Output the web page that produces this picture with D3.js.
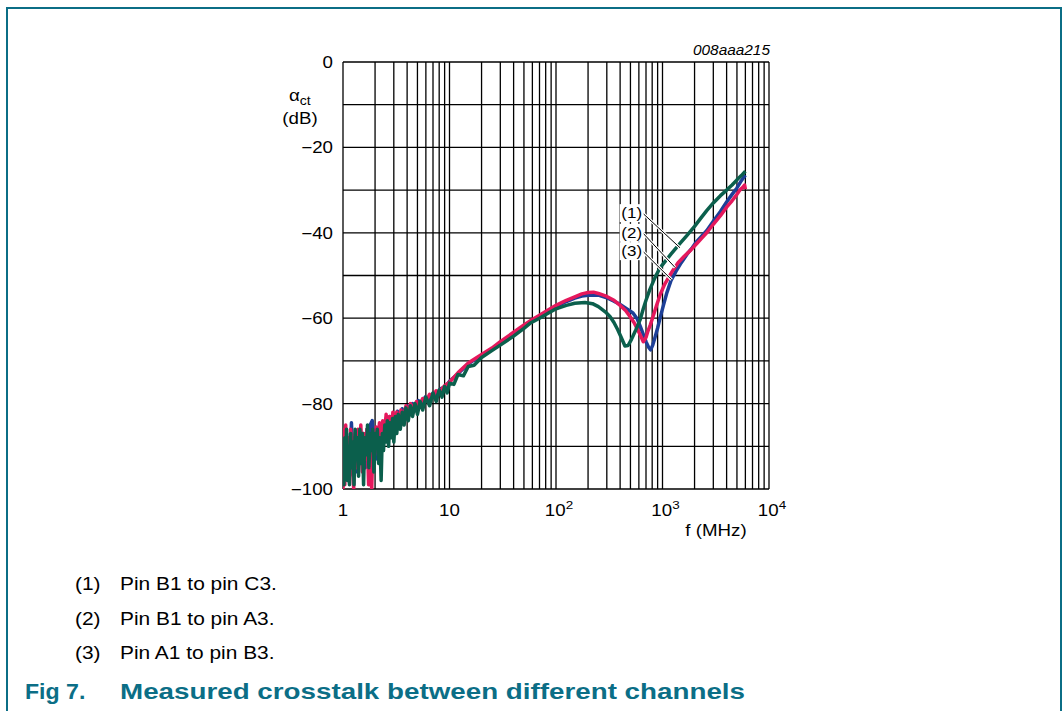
<!DOCTYPE html>
<html>
<head>
<meta charset="utf-8">
<script src="https://cdn.jsdelivr.net/npm/d3@7"></script>
<style>
body { margin: 0; background: #fff; }
svg { display: block; font-family: "Liberation Sans", Arial, sans-serif; }
</style>
</head>
<body>
<svg id="chart"></svg>
<script>
//tick values and labels
var yTickVals = [0, -20, -40, -60, -80, -100];
var xTickVals = [1, 10, 100, 1000, 10000];
var xTickBase = ["1", "10", "10", "10", "10"];
var xTickExp = ["", "", "2", "3", "4"];

//series (frequency in MHz, crosstalk in dB)
var pinB1C3 = [
    [1.00,-92],[1.02,-99],[1.04,-88],[1.06,-96],[1.08,-86],[1.10,-98],[1.12,-90],[1.15,-99],
    [1.18,-87],[1.21,-95],[1.24,-89],[1.27,-99],[1.30,-86],[1.33,-93],[1.36,-88],[1.40,-97],
    [1.44,-86],[1.48,-94],[1.52,-87],[1.56,-99],[1.60,-88],[1.65,-92],[1.70,-85],[1.75,-95],
    [1.80,-87],[1.85,-91],[1.90,-86],[1.95,-96],[2.00,-87],[2.05,-90],[2.10,-86],[2.16,-94],
    [2.22,-88],[2.28,-98],[2.34,-87],[2.40,-91],[2.47,-85],[2.54,-89],[2.61,-84],[2.68,-90],
    [2.76,-84.5],[2.84,-88],[2.92,-83.5],[3.00,-89],[3.10,-83],[3.20,-87],[3.30,-82.5],[3.45,-86],
    [3.60,-82],[3.75,-85],[3.90,-81],[4.10,-84],[4.30,-80.5],[4.50,-83],[4.75,-80],[5.0,-82.5],
    [5.3,-79.5],[5.6,-81.5],[6.0,-78.5],[6.5,-80.5],[7.0,-77.5],[7.5,-79.5],[8.0,-76.8],[8.5,-78.5],
    [9.0,-76],[9.5,-77.5],[10,-75.2],[11,-75.5],[12,-73.2],[13.5,-73.5],[15,-71.3],[17,-71],
    [20,-69.2],[25,-67.6],[30,-66.3],[40,-64.2],[50,-62.4],
    [57,-61.2],[70,-60],[85,-58.8],[100,-57.8],[125,-57],[150,-56.5],[187,-56.3],[220,-56.6],
    [250,-57.3],[290,-58.5],[321,-59.6],[350,-61],[380,-62.7],[410,-64.5],[444,-66.5],[475,-66.4],
    [510,-65],[560,-62.8],[616,-60.4],[660,-57.8],[700,-55.8],[760,-53.3],[850,-50.5],[948,-48.2],
    [1050,-46.8],[1200,-45],[1460,-42.5],[1700,-40.6],[2000,-38.5],[2300,-36.5],[2600,-34.8],
    [3000,-33],[3500,-31.3],[4000,-30],[4500,-28.8],[5000,-27.6],[5500,-26.6],[6000,-25.6]
];
var pinB1A3 = [
    [1.00,-100],[1.02,-86],[1.04,-99],[1.06,-85],[1.09,-95],[1.12,-88],[1.15,-97],[1.18,-86],
    [1.22,-93],[1.26,-100],[1.30,-87],[1.34,-95],[1.38,-86],[1.42,-92],[1.47,-85],[1.52,-96],
    [1.57,-87],[1.62,-93],[1.68,-86],[1.74,-99],[1.80,-88],[1.86,-100],[1.92,-87],[1.98,-92],
    [2.05,-85.5],[2.12,-90],[2.20,-84.5],[2.28,-89],[2.36,-84],[2.45,-88],[2.54,-82.5],[2.63,-87],
    [2.73,-83],[2.83,-86.5],[2.94,-82],[3.05,-85],[3.2,-82],[3.35,-84.5],[3.5,-81.5],[3.7,-83.5],
    [3.9,-80.5],[4.1,-82.5],[4.3,-80],[4.6,-81.5],[4.9,-79.5],[5.2,-80.5],[5.6,-78.8],[6.0,-79.5],
    [6.5,-77.8],[7.0,-78.2],[7.5,-77],[8.0,-77.3],[9.0,-75.8],[10,-75],
    [12,-72.8],[15,-70.5],[20,-68.5],[25,-67],[30,-65.5],[40,-63.3],[50,-61.6],[60,-60.3],
    [70,-59.3],[85,-58],[100,-57],[125,-55.8],[150,-55],[175,-54.3],[200,-54],[225,-53.9],
    [250,-54.2],[300,-54.9],[350,-55.8],[400,-57],[450,-58.2],[495,-59.6],[540,-61],[580,-62.5],
    [620,-64],[660,-65.5],[700,-64.5],[730,-63],[770,-61.5],[815,-59.6],[880,-57],[950,-54.5],
    [1050,-52],[1150,-50.3],[1260,-48.7],[1400,-47],[1600,-45.5],[1850,-44],[2100,-42.5],
    [2350,-41.2],[2600,-40],[3000,-38],[3500,-36],[4000,-34],[4500,-32.5],[5000,-31],
    [5400,-29.8],[5700,-29.3],[5900,-28.8],[6000,-29.8]
];
var pinA1B3 = [
    [1.00,-97],[1.02,-89],[1.05,-94],[1.08,-87],[1.11,-96],[1.14,-89],[1.17,-92],[1.20,-84.5],
    [1.24,-93],[1.28,-88],[1.32,-96],[1.36,-87],[1.41,-94],[1.46,-86],[1.51,-91],[1.56,-87],
    [1.62,-95],[1.68,-86],[1.74,-92],[1.80,-85],[1.88,-84],[1.95,-91],[2.02,-86],[2.10,-93],
    [2.18,-86],[2.26,-90],[2.35,-84.5],[2.44,-88.5],[2.54,-83.5],[2.64,-87],[2.75,-83],[2.86,-86],
    [2.98,-82.5],[3.1,-85],[3.25,-81.8],[3.4,-84],[3.6,-81.2],[3.8,-83],[4.0,-80.5],[4.25,-82],
    [4.5,-80],[4.8,-81],[5.1,-79.3],[5.5,-80],[5.9,-78.5],[6.4,-79],[7.0,-77.6],[7.6,-77.8],
    [8.3,-76.5],[9.2,-76],[10,-74.8],
    [12,-73],[15,-70.7],[20,-68.7],[25,-67.2],[30,-65.8],[40,-63.5],[50,-61.8],[60,-60.5],
    [70,-59.5],[85,-58.3],[100,-57.3],[125,-56.1],[150,-55.3],[175,-54.8],[200,-54.6],[250,-54.6],
    [300,-55.2],[350,-56],[400,-56.8],[460,-57.8],[528,-58.8],[580,-60.2],[620,-62],[660,-63.8],
    [700,-65.5],[740,-66.8],[774,-67.4],[810,-66.3],[850,-64.5],[900,-62.3],[948,-60],[1020,-57],
    [1100,-54],[1200,-51.2],[1360,-48.7],[1500,-47],[1700,-45],[1900,-43.5],[2100,-42],
    [2350,-40.7],[2600,-39.5],[3000,-37.3],[3500,-35],[4000,-32.8],[4500,-31],[5000,-29.5],
    [5500,-27.8],[5800,-27],[6000,-26.5]
];

//annotation: label position and the point it points at (MHz, dB)
var annoText = ["(1)", "(2)", "(3)"];
var annoLabel = [[514,-35.4],[514,-40],[514,-44.3]];
var annoTarget = [[1459,-43.5],[1310,-48.1],[1220,-51]];

var legendNum = ["(1)", "(2)", "(3)"];
var legendText = ["Pin B1 to pin C3.", "Pin B1 to pin A3.", "Pin A1 to pin B3."];

var width = 1063;
var height = 711;
var teal = "#0b6e86";
var stretch = 1.17;

var svg = d3.select("#chart")
    .attr("width", width)
    .attr("height", height);

//text that is a little wider than the font, as in the scan
var addText = function(g, x, y, str, size, anchor, sx)
{
    return g.append("text")
        .attr("transform", "translate(" + x + "," + y + ") scale(" + sx + ",1)")
        .attr("text-anchor", anchor)
        .attr("font-size", size)
        .attr("fill", "#000")
        .text(str);
};

//frame round the figure
svg.append("path")
    .attr("d", "M7," + height + "V8H1061V" + height)
    .attr("fill", "none")
    .attr("stroke", teal)
    .attr("stroke-width", 2);

//scales
var xScale = d3.scaleLog()
    .domain([1, 10000])
    .range([343, 769]);
var yScale = d3.scaleLinear()
    .domain([-100, 0])
    .range([489, 62]);

//grid
var grid = svg.append("g");
grid.selectAll("line.v")
    .data(xScale.ticks())
    .enter()
    .append("line")
    .attr("class", "v")
    .attr("x1", function(d){ return xScale(d); })
    .attr("x2", function(d){ return xScale(d); })
    .attr("y1", yScale(0))
    .attr("y2", yScale(-100))
    .attr("stroke", "#000")
    .attr("stroke-width", 1.3);
grid.selectAll("line.h")
    .data(yScale.ticks(10))
    .enter()
    .append("line")
    .attr("class", "h")
    .attr("x1", xScale(1))
    .attr("x2", xScale(10000))
    .attr("y1", function(d){ return yScale(d); })
    .attr("y2", function(d){ return yScale(d); })
    .attr("stroke", "#000")
    .attr("stroke-width", 1.3);

//y axis labels
var fmt = d3.format("d");
var labels = svg.append("g");
yTickVals.forEach(function(v){
    addText(labels, xScale(1) - 10, yScale(v) + 6, fmt(v).replace("-", "\u2013"), 16, "end", stretch);
});

//x axis labels
xTickVals.forEach(function(v, i){
    var t = addText(labels, xScale(v) + (xTickExp[i] ? 3 : 0), yScale(-100) + 27, xTickBase[i], 16, "middle", stretch);
    t.append("tspan")
        .attr("font-size", 11.5)
        .attr("dy", -7)
        .text(xTickExp[i]);
});

addText(labels, 716, 536, "f (MHz)", 16, "middle", stretch);

//y title
var yt = addText(labels, 289, 101, "\u03b1", 16, "start", stretch);
yt.append("tspan").attr("font-size", 12).attr("dy", 4).text("ct");
addText(labels, 300, 124, "(dB)", 16, "middle", stretch);

addText(labels, 770, 55, "008aaa215", 14, "end", 1.1)
    .attr("font-style", "italic");

//curves
svg.append("clipPath")
    .attr("id", "plot")
    .append("rect")
    .attr("x", xScale(1))
    .attr("y", yScale(0))
    .attr("width", xScale(10000) - xScale(1))
    .attr("height", yScale(-100) - yScale(0));

var line = d3.line()
    .x(function(d){ return xScale(d[0]); })
    .y(function(d){ return yScale(d[1]); });

var series = [
    {pts: pinA1B3, color: "#1d3f97"},
    {pts: pinB1A3, color: "#e5185c"},
    {pts: pinB1C3, color: "#0b5f4c"}
];
svg.append("g")
    .attr("clip-path", "url(#plot)")
    .selectAll("path")
    .data(series)
    .enter()
    .append("path")
    .attr("d", function(s){ return line(s.pts); })
    .attr("fill", "none")
    .attr("stroke", function(s){ return s.color; })
    .attr("stroke-width", 3.5)
    .attr("stroke-linejoin", "round");

//annotation leaders and labels
var anno = svg.append("g");
annoText.forEach(function(t, i){
    var lx = xScale(annoLabel[i][0]);
    var ly = yScale(annoLabel[i][1]);
    var tx = xScale(annoTarget[i][0]);
    var ty = yScale(annoTarget[i][1]);
    anno.append("line")
        .attr("x1", lx + 11).attr("y1", ly)
        .attr("x2", tx).attr("y2", ty)
        .attr("stroke", "#fff").attr("stroke-width", 3);
    anno.append("line")
        .attr("x1", lx + 11).attr("y1", ly)
        .attr("x2", tx).attr("y2", ty)
        .attr("stroke", "#000").attr("stroke-width", 1);
    anno.append("rect")
        .attr("x", lx - 12).attr("y", ly - 9)
        .attr("width", 24).attr("height", 18)
        .attr("fill", "#fff");
    addText(anno, lx, ly + 5, t, 14.5, "middle", stretch);
});

//legend
legendNum.forEach(function(n, i){
    addText(svg, 75, 590 + i * 34.5, n, 19, "start", 1.1);
    addText(svg, 120, 590 + i * 34.5, legendText[i], 19, "start", 1.1);
});

//caption
addText(svg, 25, 699, "Fig 7.", 22, "start", 1.05)
    .attr("font-weight", "bold")
    .attr("fill", teal);
svg.append("text")
    .attr("x", 120).attr("y", 699)
    .attr("font-size", 22)
    .attr("font-weight", "bold")
    .attr("fill", teal)
    .attr("textLength", 625)
    .attr("lengthAdjust", "spacingAndGlyphs")
    .text("Measured crosstalk between different channels");
</script>
</body>
</html>
